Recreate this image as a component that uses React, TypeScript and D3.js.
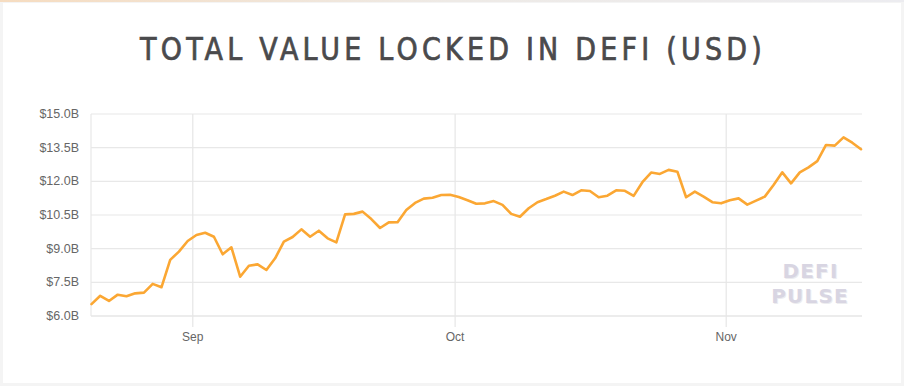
import { useMemo } from "react"
import * as d3 from "d3"

const W = 904, H = 386
const PL = 91, PR = 862, PT = 114, PB = 316

// daily TVL readings in billions USD, first sample 2020-08-20
const START = Date.UTC(2020, 7, 20, 10)
const tvl = [
  6.53, 6.90, 6.67, 6.95, 6.88, 7.01, 7.04, 7.43, 7.28, 8.50,
  8.87, 9.34, 9.61, 9.71, 9.53, 8.75, 9.06, 7.75, 8.24, 8.30,
  8.05, 8.57, 9.31, 9.52, 9.86, 9.53, 9.80, 9.46, 9.28, 10.53,
  10.55, 10.65, 10.32, 9.92, 10.17, 10.18, 10.72, 11.04, 11.23, 11.27,
  11.39, 11.40, 11.30, 11.16, 11.00, 11.02, 11.12, 10.95, 10.55, 10.42,
  10.80, 11.07, 11.21, 11.36, 11.54, 11.39, 11.60, 11.57, 11.29, 11.36,
  11.60, 11.58, 11.35, 11.96, 12.39, 12.33, 12.51, 12.43, 11.29, 11.54,
  11.32, 11.07, 11.02, 11.16, 11.24, 10.96, 11.14, 11.32, 11.84, 12.40,
  11.91, 12.40, 12.62, 12.90, 13.62, 13.59, 13.96, 13.72, 13.43,
]
const yTickValues = [6, 7.5, 9, 10.5, 12, 13.5, 15]
const yTickLabels = ["$6.0B", "$7.5B", "$9.0B", "$10.5B", "$12.0B", "$13.5B", "$15.0B"]
const monthLabels = ["Sep", "Oct", "Nov"]

const TITLE = "TOTAL VALUE LOCKED IN DEFI (USD)"

export default function App() {
  const dates = useMemo(() => tvl.map((_, i) => d3.utcDay.offset(new Date(START), i)), [])

  const x = d3.scaleUtc().domain([dates[0], dates[dates.length - 1]]).range([PL + 0.5, PR - 1])
  const y = d3.scaleLinear().domain([6, 15]).range([PB, PT])
  const months = d3.utcMonth.range(dates[0], dates[dates.length - 1])

  const line = d3.line<number>()
    .x((_, i) => x(dates[i]))
    .y(d => y(d))
    .curve(d3.curveLinear)

  const axisFont = "'Liberation Sans', Arial, sans-serif"

  return (
    <svg width={W} height={H} style={{ position: "absolute", left: 0, top: 0, background: "#fff" }}>
      <defs>
        <linearGradient id="topStrip" x1="0" x2="1">
          <stop offset="0" stopColor="#f6dcc0" />
          <stop offset="0.5" stopColor="#eeeae6" />
          <stop offset="1" stopColor="#ececf0" />
        </linearGradient>
      </defs>
      <rect x={0} y={0} width={W} height={H} fill="#f4f4f4" />
      <rect x={3} y={3} width={W - 6} height={H - 6} fill="#fff" />
      <rect x={0} y={0} width={W} height={2} fill="url(#topStrip)" />

      <text
        x={453} y={60} textAnchor="middle"
        fontFamily="'DejaVu Sans Condensed', 'DejaVu Sans', sans-serif"
        fontSize={32} fill="#4a4a4c" letterSpacing={4.5}
        textLength={626} lengthAdjust="spacingAndGlyphs"
        stroke="#4a4a4c" strokeWidth={0.7}
      >{TITLE}</text>

      {/* horizontal grid */}
      {yTickValues.map(t => (
        <line key={t} x1={PL} x2={PR} y1={y(t)} y2={y(t)}
          stroke={t === 6 ? "#d9d9d9" : "#e8e8e8"} strokeWidth={1.2} />
      ))}
      <line x1={PL} x2={PL} y1={PT} y2={PB} stroke="#e8e8e8" strokeWidth={1.2} />

      {/* month grid + ticks */}
      {months.map((m, i) => (
        <g key={i}>
          <line x1={x(m)} x2={x(m)} y1={PT} y2={PB + 11} stroke="#e6e6e6" strokeWidth={1.2} />
          <text x={x(m)} y={341} textAnchor="middle" fontFamily={axisFont}
            fontSize={12} fill="#666">{monthLabels[i] ?? d3.utcFormat("%b")(m)}</text>
        </g>
      ))}

      {/* y labels */}
      {yTickValues.map((t, i) => (
        <text key={t} x={79} y={y(t)} textAnchor="end" dominantBaseline="central"
          fontFamily={axisFont} fontSize={12.5} fill="#666">{yTickLabels[i]}</text>
      ))}

      {/* watermark */}
      <g fontFamily="'DejaVu Sans', sans-serif" fontWeight="bold" fontSize={20} textAnchor="middle" letterSpacing={1.2}>
        <text x={811.5} y={279} fill="#ececef">DEFI</text>
        <text x={811} y={304} fill="#ececef">PULSE</text>
        <text x={810.5} y={278} fill="#d8d5e2">DEFI</text>
        <text x={810} y={303} fill="#d8d5e2">PULSE</text>
      </g>

      <path d={line(tvl) ?? ""} fill="none" stroke="#fba733" strokeWidth={2.6}
        strokeLinejoin="round" strokeLinecap="round" />
    </svg>
  )
}
